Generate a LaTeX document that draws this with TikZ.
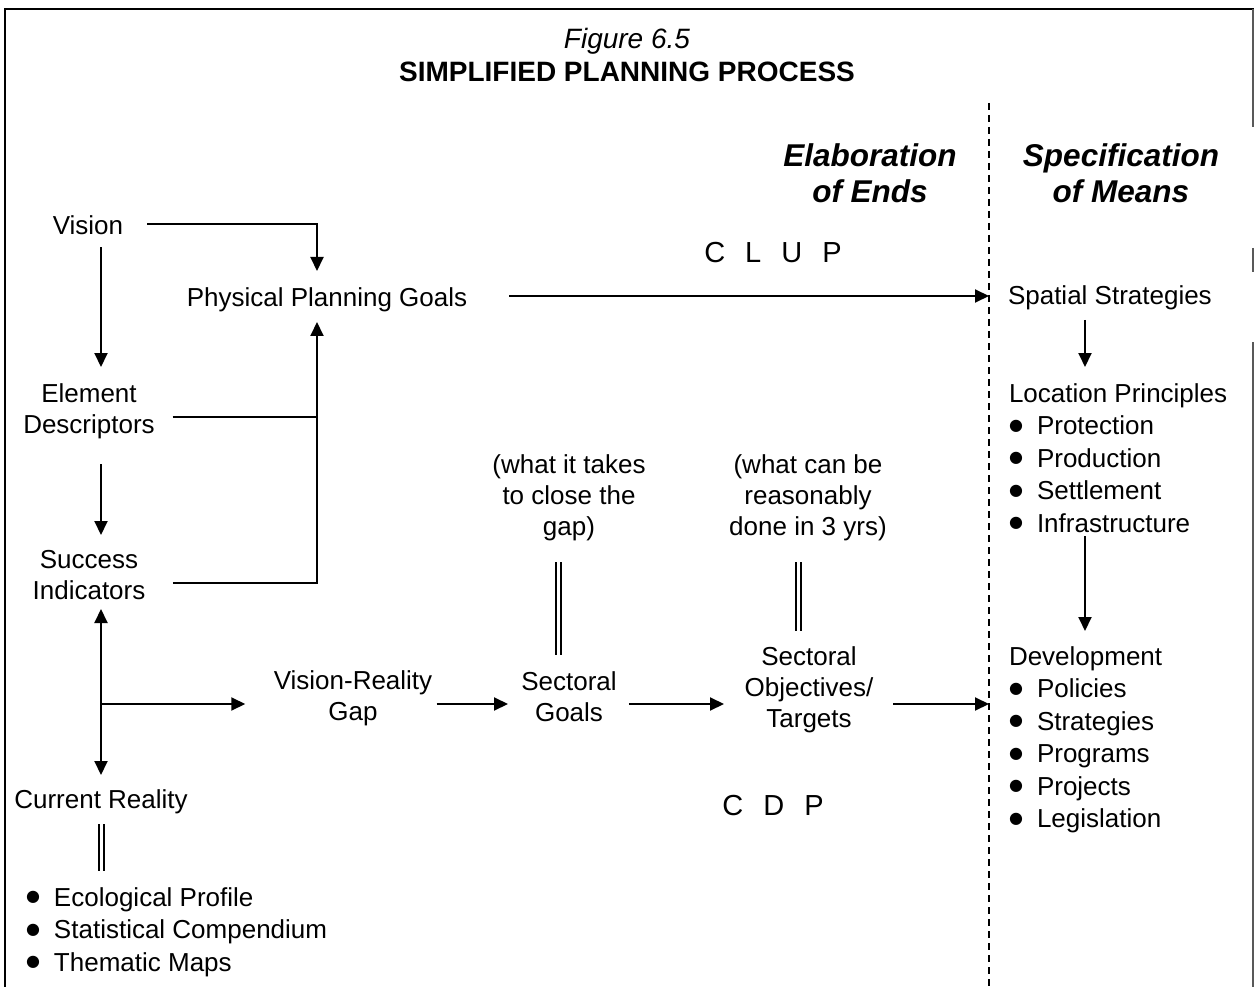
\documentclass[tikz,border=0pt]{standalone}
\usepackage{fontspec}
\setmainfont{Liberation Sans}
\newfontfamily\symfont{DejaVu Sans}
\usetikzlibrary{arrows.meta,calc}
\newcommand\bul{\makebox[28pt][l]{\raisebox{4.5pt}{\symfont\fontsize{16}{16}\selectfont ●}}}
\begin{document}
\begin{tikzpicture}[x=1pt,y=-1pt,
  txt/.style={inner sep=0pt, outer sep=0pt, font=\fontsize{26}{31}\selectfont},
  ctr/.style={txt, align=center, anchor=north},
  lst/.style={inner sep=0pt, outer sep=0pt, font=\fontsize{26}{32.5}\selectfont, align=left, anchor=north west},
  conn/.style={line width=2pt},
  arr/.style={conn, -{Triangle[length=14pt,width=13pt]}},
  dblarr/.style={conn, {Triangle[length=14pt,width=13pt]}-{Triangle[length=14pt,width=13pt]}},
  dbl/.style={double, double distance=3pt, line width=2pt},
]
\useasboundingbox (0,0) rectangle (1254,987);
% frame
\draw[line width=2pt] (5,987) -- (5,9) -- (1254,9);
\draw[line width=2pt, black!65] (1253,9) -- (1253,127) (1253,248) -- (1253,272) (1253,342) -- (1253,987);
% divider
\coordinate (divtop) at (989,103);
\coordinate (divbot) at (989,987);
\draw[line width=1.6pt, dash pattern=on 7pt off 5pt] (divtop) -- (divbot);

% titles
\node[ctr, font=\fontsize{28}{33}\selectfont] (title) at (627,25) {\strut\textit{Figure 6.5}\\\strut\textbf{SIMPLIFIED PLANNING PROCESS}};
\node[ctr, font=\fontsize{31.5}{36}\selectfont\bfseries\itshape] (ends) at (870,141.8) {\strut Elaboration\\\strut of Ends};
\node[ctr, font=\fontsize{31.5}{36}\selectfont\bfseries\itshape] (means) at (1121,141.8) {\strut Specification\\\strut of Means};

% nodes
\node[ctr] (vision) at (88,213.3) {\strut Vision};
\node[ctr] (ppg) at (327,285.3) {\strut Physical Planning Goals};
\node[txt, anchor=north west] (ss) at (1008,283.3) {\strut Spatial Strategies};
\node[ctr, font=\fontsize{29}{31}\selectfont] (clup) at (773,241.3) {\strut C\hspace{20pt}L\hspace{20pt}U\hspace{20pt}P};
\node[ctr, font=\fontsize{29}{31}\selectfont] (cdp) at (773,793.3) {\strut C\hspace{20pt}D\hspace{20pt}P};
\node[ctr] (cr) at (101,786.3) {\strut Current Reality};
\node[ctr] (ed) at (89,380.3) {\strut Element\\\strut Descriptors};
\node[ctr] (si) at (89,546.3) {\strut Success\\\strut Indicators};
\node[ctr] (vrg) at (353,667.3) {\strut Vision-Reality\\\strut Gap};
\node[ctr] (sg) at (569,668.3) {\strut Sectoral\\\strut Goals};
\node[ctr] (so) at (809,643.3) {\strut Sectoral\\\strut Objectives/\\\strut Targets};
\node[ctr] (note1) at (569,451.3) {\strut (what it takes\\\strut to close the\\\strut gap)};
\node[ctr] (note2) at (808,451.3) {\strut (what can be\\\strut reasonably\\\strut done in 3 yrs)};
\node[lst] (lp) at (1009,379.25) {\strut Location Principles\\\strut\bul Protection\\\strut\bul Production\\\strut\bul Settlement\\\strut\bul Infrastructure};
\node[lst] (dev) at (1009,642.25) {\strut Development\\\strut\bul Policies\\\strut\bul Strategies\\\strut\bul Programs\\\strut\bul Projects\\\strut\bul Legislation};
\node[lst] (crl) at (26,883.25) {\strut\bul Ecological Profile\\\strut\bul Statistical Compendium\\\strut\bul Thematic Maps};

% connectors
\draw[arr] ($(vision.east)+(24,-4.8)$) -| ($(ppg.north)+(-10,-14.3)$);
\draw[arr] ($(vision.south)+(13,3)$) -- ($(ed.north)+(12,-13.3)$);
\coordinate (bus) at ($(ppg.south)+(-10,5.7)$);
\path ($(ed.east)+(18,5.2)$) coordinate (edout);
\draw[conn] (edout) -- (edout -| bus);
\path ($(si.east)+(27.5,5.7)$) coordinate (siout);
\draw[arr] (siout) -| (bus);
\draw[arr] ($(ed.south)+(12,21.7)$) -- ($(si.north)+(12,-11.3)$);
\draw[dblarr] ($(si.south)+(12,0.7)$) -- ($(cr.north)+(0,-11.3)$);
\path ($(vrg.west)+(-28.5,5.7)$) coordinate (vrgin);
\draw[arr] (vrgin -| cr) -- (vrgin);
\path ($(vrg.east)+(4.5,5.7)$) coordinate (vrgout);
\draw[arr] (vrgout) -- ($(vrgout -| sg.west)+(-13.3,0)$);
\path ($(vrgout -| sg.east)+(12.3,0)$) coordinate (sgout);
\draw[arr] (sgout) -- ($(sgout -| so.west)+(-20.7,0)$);
\path ($(sgout -| so.east)+(19.7,0)$) coordinate (soout);
\draw[arr] (soout) -- (soout -| divtop);
\path ($(ppg.east)+(42,-4.8)$) coordinate (ppgout);
\draw[arr] (ppgout) -- (ppgout -| divtop);
\draw[arr] ($(ss.south west)+(77,5.7)$) -- ($(lp.north west)+(76,-12.25)$);
\draw[arr] ($(lp.south west)+(76,-5.75)$) -- ($(dev.north west)+(76,-11.25)$);
\draw[dbl] ($(note1.south)+(-11,17.7)$) -- ($(sg.north)+(-11,-13.3)$);
\draw[dbl] ($(note2.south)+(-10,17.7)$) -- ($(so.north)+(-11,-12.3)$);
\draw[dbl] ($(cr.south)+(0.5,6.7)$) -- ($(crl.north -| cr.south)+(0.5,-12.25)$);
\end{tikzpicture}
\end{document}
